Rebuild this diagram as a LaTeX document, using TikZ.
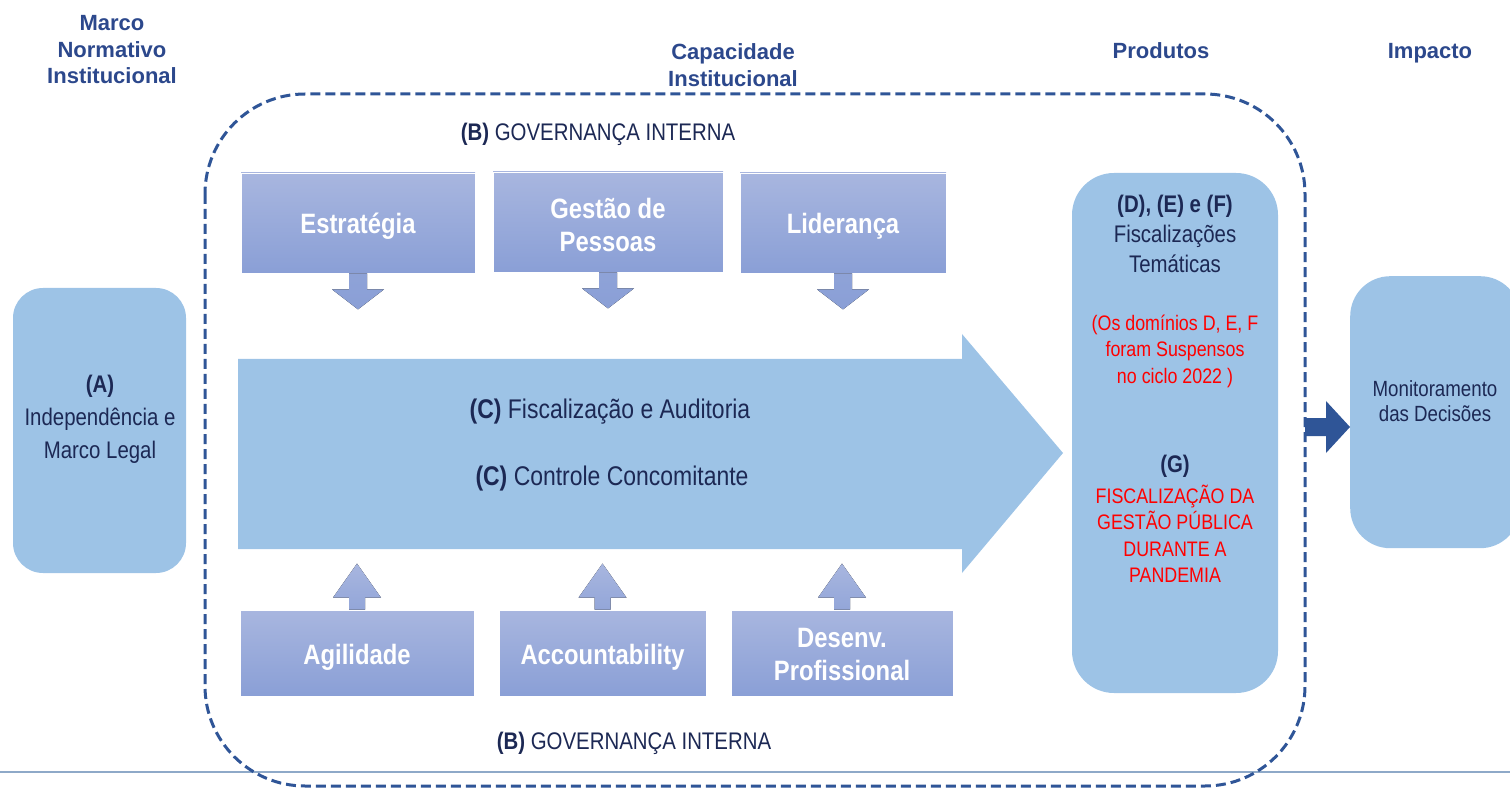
\documentclass[tikz,border=0pt]{standalone}
\usepackage{fontspec}
\setmainfont{Liberation Sans}
\newfontfamily\nar[FakeStretch=0.85]{Liberation Sans}
\definecolor{hdr}{RGB}{44,72,140}
\definecolor{navy}{RGB}{28,40,84}
\definecolor{dashcol}{RGB}{47,85,151}
\definecolor{lblue}{RGB}{157,195,230}
\definecolor{gTop}{RGB}{168,182,223}
\definecolor{gBot}{RGB}{138,159,214}
\definecolor{rulecol}{RGB}{142,169,200}
\definecolor{redcol}{RGB}{255,0,0}
\tikzset{
  hdrtext/.style={text=hdr, font=\bfseries\fontsize{22}{26.5}\selectfont, align=center, inner sep=0},
  govbox/.style={rectangle, top color=gTop, bottom color=gBot, draw=white, line width=0.8pt},
  govtext/.style={text=white, font=\nar\bfseries\fontsize{28}{33}\selectfont, align=center, inner sep=0},
  bluebox/.style={fill=lblue, draw=none},
  bodytext/.style={text=navy, font=\nar\fontsize{24}{30}\selectfont, align=center, inner sep=0},
  redtext/.style={text=redcol, font=\nar\fontsize{21}{26.5}\selectfont, align=center, inner sep=0},
  bigtext/.style={text=navy, font=\nar\fontsize{27}{33}\selectfont, inner sep=0},
  downarrow/.style={top color=gBot!85!gTop, bottom color=gBot},
  uparrow/.style={top color=gTop, bottom color=gBot!70!gTop},
}
\begin{document}
\begin{tikzpicture}[x=1pt,y=-1pt]
\useasboundingbox (0,0) rectangle (1510,791);

% headers
\node[hdrtext] (h1) at (112,50) {Marco\\Normativo\\Institucional};
\node[hdrtext] (h2) at (733,65) {Capacidade\\Institucional};
\node[hdrtext] (h3) at (1161,51) {Produtos};
\node[hdrtext] (h4) at (1430,53) {Impacto};

% bottom rule
\draw[rulecol, line width=1.5pt] (0,772) -- (1510,772);

% dashed frame
\draw[dashcol, line width=3pt, dash pattern=on 10pt off 5pt, rounded corners=100pt] (205,94) rectangle (1305,786);

% (A) box
\node[bluebox, rounded corners=30pt, minimum width=173pt, minimum height=285pt] (A) at (99.5,430.5) {};
\node[bodytext, font=\nar\fontsize{24}{33}\selectfont] (At) at (100,419) {\textbf{(A)}\\Independência e\\Marco Legal};

% governance labels
\node[bodytext] (Bt) at (598,134) {\textbf{(B)} GOVERNANÇA INTERNA};
\node[bodytext] (Bb) at (634,743) {\textbf{(B)} GOVERNANÇA INTERNA};

% big arrow
\fill[lblue] (238,359) coordinate (bigL) -- (962,359) -- (962,334) -- (1063,453) coordinate (bigtip) -- (962,573) -- (962,549) -- (238,549) -- cycle;
\node[bigtext] (C1) at (610,412) {\textbf{(C)} Fiscalização e Auditoria};
\node[bigtext] (C2) at (612,479) {\textbf{(C)} Controle Concomitante};

% top boxes
\node[govbox, minimum width=234pt, minimum height=100pt] (estr) at (358,223) {};
\node[govbox, minimum width=230pt, minimum height=100pt] (gest) at (608,222) {};
\node[govbox, minimum width=206pt, minimum height=100pt] (lid) at (843,223) {};
\node[govtext] (estrt) at (358,226) {Estratégia};
\node[govtext] (gestt) at (608,225) {Gestão de\\Pessoas};
\node[govtext] (lidt) at (843,226) {Liderança};

\foreach \b in {estr,gest,lid}{
  \fill[downarrow] ([xshift=-9pt]\b.south) -- ++(18,0) -- ++(0,16) -- ++(17,0) -- ++(-26,20) -- ++(-26,-20) -- ++(17,0) -- cycle;
}

% bottom boxes
\node[govbox, minimum width=234pt, minimum height=86pt] (agil) at (357,653) {};
\node[govbox, minimum width=207pt, minimum height=86pt] (acc) at (602.5,653) {};
\node[govbox, minimum width=222pt, minimum height=86pt] (des) at (842,653) {};
\node[govtext] (agilt) at (357,657) {Agilidade};
\node[govtext] (acct) at (602.5,657) {Accountability};
\node[govtext] (dest) at (842,655) {Desenv.\\Profissional};

\foreach \b in {agil,acc,des}{
  \fill[uparrow] ([xshift=-8pt]\b.north) -- ++(0,-12) -- ++(-16,0) -- ++(24,-34) -- ++(24,34) -- ++(-16,0) -- ++(0,12) -- cycle;
}

% products box
\node[bluebox, rounded corners=42pt, minimum width=206pt, minimum height=520pt] (prod) at (1175,433) {};
\node[bodytext] (p1) at (1175,234) {\textbf{(D), (E) e (F)}\\Fiscalizações\\Temáticas};
\node[redtext] (p2) at (1175,351) {(Os domínios D, E, F\\foram Suspensos\\no ciclo 2022 )};
\node[bodytext] (p3) at (1175,466) {\textbf{(G)}};
\node[redtext] (p4) at (1175,534) {FISCALIZAÇÃO DA\\GESTÃO PÚBLICA\\DURANTE A\\PANDEMIA};

% impact box
\node[bluebox, rounded corners=40pt, minimum width=170pt, minimum height=272pt, anchor=north west] (mon) at (1350,276) {};
\node[bodytext, font=\nar\fontsize{22}{24.5}\selectfont] (mt) at (1435,401) {Monitoramento\\das Decisões};

% arrow products -> impact
\coordinate (frameR) at (1305,427);
\fill[dashcol] ([yshift=-9pt]frameR) -- ([yshift=-9pt,xshift=-24pt]mon.west |- frameR) -- ([yshift=-26pt,xshift=-24pt]mon.west |- frameR) -- (mon.west |- frameR) -- ([yshift=26pt,xshift=-24pt]mon.west |- frameR) -- ([yshift=9pt,xshift=-24pt]mon.west |- frameR) -- ([yshift=9pt]frameR) -- cycle;
\end{tikzpicture}
\end{document}
